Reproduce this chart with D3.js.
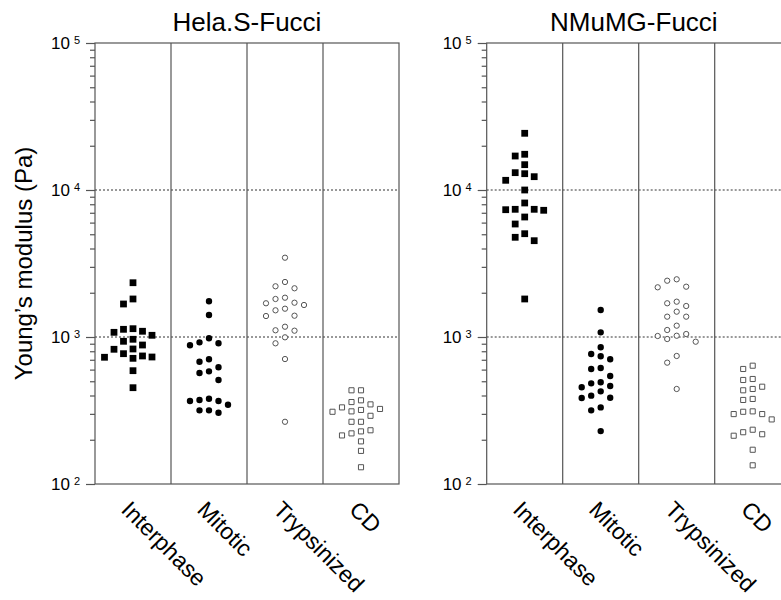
<!DOCTYPE html>
<html>
<head>
<meta charset="utf-8">
<script src="https://cdn.jsdelivr.net/npm/d3@7"></script>
<style>
  body { margin: 0; background: #fff; }
  svg { display: block; font-family: "Liberation Sans", Arial, sans-serif; }
</style>
</head>
<body>
<script>
var categories = ["Interphase", "Mitotic", "Trypsinized", "CD"];
var panelTitles = ["Hela.S-Fucci", "NMuMG-Fucci"];
var yTicks = [100, 1000, 10000, 100000];
var gridValues = [1000, 10000];

// Young's modulus (Pa)
var helaInterphase = [2340, 1814, 1677, 1139, 1128, 1094, 1076, 1027, 965, 935, 882, 829, 825, 770, 743, 731, 728, 716, 590, 452];
var helaMitotic = [1749, 1412, 980, 920, 906, 878, 705, 679, 622, 584, 569, 510, 380, 373, 367, 367, 346, 317, 317, 305];
var helaTrypsinized = [3463, 2367, 2213, 2145, 1851, 1814, 1711, 1696, 1651, 1558, 1519, 1396, 1389, 1175, 1111, 1104, 995, 906, 708, 265];
var helaCD = [434, 434, 371, 361, 348, 332, 324, 319, 312, 310, 291, 265, 265, 232, 228, 221, 214, 195, 168, 130];

var nmumgInterphase = [24310, 17500, 17030, 14870, 13120, 12910, 12320, 11640, 10000, 8160, 7390, 7390, 7345, 7277, 6551, 5870, 5043, 4767, 4520, 1814];
var nmumgMitotic = [1527, 1076, 851, 766, 739, 705, 615, 606, 543, 492, 484, 464, 455, 427, 399, 386, 385, 332, 317, 229];
var nmumgTrypsinized = [2469, 2415, 2199, 2178, 1739, 1696, 1625, 1487, 1375, 1375, 1194, 1116, 1048, 1020, 1016, 969, 929, 743, 669, 443];
var nmumgCD = [638, 606, 518, 510, 459, 443, 434, 379, 373, 312, 310, 299, 299, 275, 234, 225, 218, 213, 171, 134];

var panelData = [
  [helaInterphase, helaMitotic, helaTrypsinized, helaCD],
  [nmumgInterphase, nmumgMitotic, nmumgTrypsinized, nmumgCD]
];

// one marker look per category
var markerStyles = [
  {type: d3.symbolSquare, size: 46, fill: "#000", stroke: "none"},
  {type: d3.symbolCircle, size: 32, fill: "#000", stroke: "none"},
  {type: d3.symbolCircle, size: 22, fill: "#fff", stroke: "#555"},
  {type: d3.symbolSquare, size: 26, fill: "#fff", stroke: "#555"}
];

var width = 781, height = 600;
var panelLeft = [95, 486.7];
var panelWidth = 304;
var plotTop = 43, plotBottom = 484;
var slotWidth = 9.5;
var lineColor = "#555";

var svg = d3.select("body").append("svg")
  .attr("width", width)
  .attr("height", height);

var y = d3.scaleLog()
  .domain([100, 100000])
  .range([plotBottom, plotTop]);

var x = d3.scaleBand()
  .domain(categories)
  .range([0, panelWidth]);

/*
Spreads points of one group sideways so that markers of similar value
do not sit on top of each other. Returns a slot index for each value.
*/
function dodge(values, gap) {
  var placed = [];
  var slots = [];
  var tries = [0, -1, 1, -2, 2, -3, 3, -4, 4];
  var order = values.map(function(v, i){return i;})
    .sort(function(a, b){return values[b] - values[a];});
  order.forEach(function(i) {
    var py = y(values[i]);
    for (var k = 0; k < tries.length; k++) {
      var s = tries[k];
      var hit = placed.some(function(p){return p.slot === s && Math.abs(p.py - py) < gap;});
      if (!hit) {
        placed.push({slot: s, py: py});
        slots[i] = s;
        break;
      }
    }
  });
  return slots;
}

function minorTicks() {
  var t = [];
  for (var d = 2; d < 5; d++) {
    for (var m = 2; m < 10; m++) t.push(m * Math.pow(10, d));
  }
  return t;
}

function drawPanel(p) {
  var x0 = panelLeft[p];
  var g = svg.append("g")
    .attr("transform", "translate(" + x0 + ",0)");

  // dotted grid at 10^3 and 10^4
  g.selectAll(".grid")
    .data(gridValues)
    .enter()
    .append("line")
    .attr("class", "grid")
    .attr("x1", 0)
    .attr("x2", panelWidth)
    .attr("y1", function(d){return y(d);})
    .attr("y2", function(d){return y(d);})
    .style("stroke", "#333")
    .style("stroke-width", 1)
    .style("stroke-dasharray", "2,2");

  // frame + column dividers
  g.append("rect")
    .attr("x", 0)
    .attr("y", plotTop)
    .attr("width", panelWidth)
    .attr("height", plotBottom - plotTop)
    .style("fill", "none")
    .style("stroke", lineColor)
    .style("stroke-width", 1.2);

  g.selectAll(".divider")
    .data(categories.slice(1))
    .enter()
    .append("line")
    .attr("class", "divider")
    .attr("x1", function(d){return x(d);})
    .attr("x2", function(d){return x(d);})
    .attr("y1", plotTop)
    .attr("y2", plotBottom)
    .style("stroke", lineColor)
    .style("stroke-width", 1.2);

  // y axis: minor ticks, then majors with 10^n labels
  var minorAxis = g.append("g")
    .call(d3.axisLeft(y).tickValues(minorTicks()).tickSize(5).tickSizeOuter(0).tickFormat(""));
  var majorAxis = g.append("g")
    .call(d3.axisLeft(y).tickValues(yTicks).tickSize(9).tickSizeOuter(0).tickPadding(6)
      .tickFormat(function(){return "10";}));

  [minorAxis, majorAxis].forEach(function(a) {
    a.select(".domain").remove();
    a.selectAll("line").style("stroke", lineColor).style("stroke-width", 1.2);
  });

  majorAxis.selectAll("text")
    .style("font-family", "Liberation Sans, Arial, sans-serif")
    .style("font-size", "17px")
    .style("fill", "#000")
    .append("tspan")
    .attr("dx", 4)
    .attr("dy", -5)
    .style("font-size", "11px")
    .text(function(d){return Math.round(Math.log10(d));});

  // category labels, slanted 45 degrees
  var xAxis = g.append("g")
    .attr("transform", "translate(0," + plotBottom + ")")
    .call(d3.axisBottom(x).tickSize(0).tickSizeOuter(0));
  xAxis.select(".domain").remove();
  xAxis.selectAll("text")
    .attr("y", 0)
    .attr("dy", 0)
    .attr("text-anchor", "start")
    .attr("transform", "translate(-13,27) rotate(45)")
    .style("font-family", "Liberation Sans, Arial, sans-serif")
    .style("font-size", "23px")
    .style("fill", "#000");

  // points
  panelData[p].forEach(function(values, c) {
    var slots = dodge(values, 9);
    var st = markerStyles[c];
    var cx = x(categories[c]) + x.bandwidth() / 2;
    g.selectAll(".pt" + c)
      .data(values)
      .enter()
      .append("path")
      .attr("class", "pt" + c)
      .attr("d", d3.symbol().type(st.type).size(st.size))
      .attr("transform", function(d, i){return "translate(" + (cx + slots[i] * slotWidth) + "," + y(d) + ")";})
      .style("fill", st.fill)
      .style("stroke", st.stroke)
      .style("stroke-width", 1);
  });

  // title, centred over the visible part of the panel
  var visibleRight = Math.min(x0 + panelWidth, width) - x0;
  g.append("text")
    .text(panelTitles[p])
    .attr("x", visibleRight / 2)
    .attr("y", 31)
    .attr("text-anchor", "middle")
    .style("font-size", "26px")
    .style("fill", "#000");
}

drawPanel(0);
drawPanel(1);

svg.append("text")
  .text("Young\u2019s modulus (Pa)")
  .attr("transform", "translate(32," + (plotTop + plotBottom) / 2 + ") rotate(-90)")
  .attr("text-anchor", "middle")
  .style("font-size", "24px")
  .style("fill", "#000");
</script>
</body>
</html>
